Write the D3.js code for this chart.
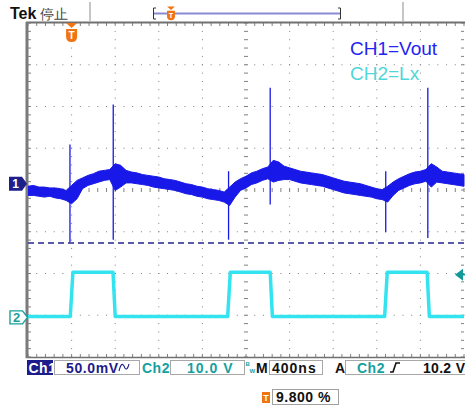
<!DOCTYPE html>
<html>
<head>
<meta charset="utf-8">
<script src="https://cdn.jsdelivr.net/npm/d3@7"></script>
<style>
body { margin: 0; background: #fff; }
svg { display: block; }
text { font-family: "Liberation Sans", Arial, sans-serif; }
</style>
</head>
<body>
<svg id="scope" width="465" height="408"></svg>
<script>
// sample times (ns), 400 ns/div, trigger one division from the left
var sampleNs = [-400, -350, -300, -250, -200, -150, -100, -50, 0, 50, 100, 150, 200, 250, 300, 350,
  400, 450, 500, 550, 600, 650, 700, 750, 800, 850, 900, 950, 1000, 1050, 1100, 1150, 1200, 1250,
  1300, 1350, 1400, 1450, 1500, 1550, 1600, 1650, 1700, 1750, 1800, 1850, 1900, 1950, 2000, 2050,
  2100, 2150, 2200, 2250, 2300, 2350, 2400, 2450, 2500, 2550, 2600, 2650, 2700, 2750, 2800, 2850,
  2900, 2950, 3000, 3050, 3100, 3150, 3200, 3250, 3300, 3350, 3400, 3450, 3500, 3550, 3600];

// CH1 (Vout) envelope, mV
var ch1HiMv = [-3, -2, -4, -4, -5, -5, -6, -8, -2, 4, 7, 10, 12, 15, 16, 17,
  24, 22, 16, 14, 13, 11, 10, 9, 8, 6, 5, 4, 2, 0, -1, -3, -4, -6,
  -7, -8, -10, -4, 2, 6, 9, 13, 15, 18, 20, 28, 26, 21, 19, 17,
  15, 14, 13, 12, 11, 9, 7, 5, 3, 2, 1, 0, -2, -4, -6, -7,
  -3, 2, 6, 9, 12, 14, 15, 17, 24, 20, 15, 14, 13, 12, 11];
var ch1LoMv = [-14, -14, -15, -16, -15, -17, -18, -20, -24, -18, -6, -2, 0, 2, 4, 5,
  -8, -4, 1, 1, 0, -1, -2, -4, -5, -6, -7, -8, -10, -12, -13, -15, -16, -18,
  -19, -20, -22, -26, -16, -8, -5, -1, 1, 4, 6, 2, 4, 5, 5, 3,
  1, 0, -1, -2, -3, -5, -7, -9, -11, -12, -13, -14, -15, -16, -18, -19,
  -22, -14, -8, -5, -2, 0, 1, 3, -4, 2, 1, 0, -1, -2, -3];

// switching spikes on CH1
var spikeNs = [-15, 382, 1440, 1822, 2882, 3268];
var spikeHiMv = [47, 95, 15, 115, 15, 115];
var spikeLoMv = [-70, -67, -67, -25, -58, -65];

// CH2 (Lx) corners, V
var ch2Ns = [-400, -12, 12, 380, 400, 1432, 1456, 1822, 1842, 2872, 2896, 3262, 3282, 3600];
var ch2V = [0.2, 0.2, 10.8, 10.8, 0.2, 0.2, 10.8, 10.8, 0.2, 0.2, 10.8, 10.8, 0.2, 0.2];

var ch1MvPerDiv = 50, ch1Pos = 0.15;
var ch2VPerDiv = 10, ch2Pos = -3.05;
var cursorMv = -71;
var trigLevelV = 10.2;

var svg = d3.select("#scope");
var gLeft = 28, gRight = 464, gTop = 23, gBottom = 357;

var gx = d3.scaleLinear().domain([0, 10]).range([gLeft, gRight]);
var gy = d3.scaleLinear().domain([-4, 4]).range([gBottom, gTop]);
var tx = d3.scaleLinear().domain([-400, 3600]).range([gLeft, gRight]);
var y1 = d3.scaleLinear()
  .domain([(-4 - ch1Pos) * ch1MvPerDiv, (4 - ch1Pos) * ch1MvPerDiv])
  .range([gBottom, gTop]);
var y2 = d3.scaleLinear()
  .domain([(-4 - ch2Pos) * ch2VPerDiv, (4 - ch2Pos) * ch2VPerDiv])
  .range([gBottom, gTop]);

var gridColor = "#808080";
var grid = svg.append("g");

// dotted division lines
var minor = d3.range(0, 50.5, 1).map(function(d) { return d / 5; });
var minorY = d3.range(-20, 20.5, 1).map(function(d) { return d / 5; });
[1, 2, 3, 4, 6, 7, 8, 9].forEach(function(i) {
  grid.selectAll(null).data(minorY).enter().append("rect")
    .attr("x", gx(i) - 0.5).attr("y", function(d) { return gy(d) - 0.5; })
    .attr("width", 1).attr("height", 1).attr("fill", gridColor);
});
[-3, -2, -1, 1, 2, 3].forEach(function(j) {
  grid.selectAll(null).data(minor).enter().append("rect")
    .attr("x", function(d) { return gx(d) - 0.5; }).attr("y", gy(j) - 0.5)
    .attr("width", 1).attr("height", 1).attr("fill", gridColor);
});

// center cross with ticks
grid.selectAll(null).data(minor).enter().append("line")
  .attr("x1", function(d) { return gx(d); }).attr("x2", function(d) { return gx(d); })
  .attr("y1", gy(0) - 2).attr("y2", gy(0) + 2)
  .attr("stroke", gridColor).attr("stroke-width", 1);
grid.selectAll(null).data(minorY).enter().append("line")
  .attr("y1", function(d) { return gy(d); }).attr("y2", function(d) { return gy(d); })
  .attr("x1", gx(5) - 2).attr("x2", gx(5) + 2)
  .attr("stroke", gridColor).attr("stroke-width", 1);

// border ticks
grid.selectAll(null).data(minor).enter().append("line")
  .attr("x1", function(d) { return gx(d); }).attr("x2", function(d) { return gx(d); })
  .attr("y1", gTop).attr("y2", gTop + 3).attr("stroke", gridColor);
grid.selectAll(null).data(minor).enter().append("line")
  .attr("x1", function(d) { return gx(d); }).attr("x2", function(d) { return gx(d); })
  .attr("y1", gBottom).attr("y2", gBottom - 3).attr("stroke", gridColor);
grid.selectAll(null).data(minorY).enter().append("line")
  .attr("y1", function(d) { return gy(d); }).attr("y2", function(d) { return gy(d); })
  .attr("x1", gLeft).attr("x2", gLeft + 3).attr("stroke", gridColor);
grid.selectAll(null).data(minorY).enter().append("line")
  .attr("y1", function(d) { return gy(d); }).attr("y2", function(d) { return gy(d); })
  .attr("x1", gRight).attr("x2", gRight - 3).attr("stroke", gridColor);

// border
grid.append("line").attr("x1", gLeft - 2).attr("x2", 465).attr("y1", gTop - 0.5).attr("y2", gTop - 0.5)
  .attr("stroke", "#707070").attr("stroke-width", 2);
grid.append("line").attr("x1", gLeft - 2).attr("x2", 465).attr("y1", gBottom + 0.5).attr("y2", gBottom + 0.5)
  .attr("stroke", "#707070").attr("stroke-width", 1.5);
grid.append("line").attr("x1", gLeft - 1).attr("x2", gLeft - 1).attr("y1", gTop - 1).attr("y2", gBottom + 1)
  .attr("stroke", "#7a7a7a").attr("stroke-width", 3);

// clip for traces
svg.append("clipPath").attr("id", "clip").append("rect")
  .attr("x", gLeft).attr("y", gTop).attr("width", gRight - gLeft + 2).attr("height", gBottom - gTop);
var traces = svg.append("g").attr("clip-path", "url(#clip)");

// cursor line
traces.append("line")
  .attr("x1", gLeft).attr("x2", 465).attr("y1", y1(cursorMv)).attr("y2", y1(cursorMv))
  .attr("stroke", "#26268a").attr("stroke-width", 1.6).attr("stroke-dasharray", "6,4");

// CH2 trace
var ch2Line = d3.line()
  .x(function(d, i) { return tx(ch2Ns[i]); })
  .y(function(d) { return y2(d); });
traces.append("path").datum(ch2V)
  .attr("d", ch2Line)
  .attr("fill", "none").attr("stroke", "#33e3f0").attr("stroke-width", 3.5)
  .attr("stroke-linejoin", "round");

// CH1 trace envelope
var ch1Area = d3.area()
  .x(function(d, i) { return tx(sampleNs[i]); })
  .y0(function(d, i) { return y1(ch1LoMv[i]); })
  .y1(function(d) { return y1(d); });
traces.append("path").datum(ch1HiMv)
  .attr("d", ch1Area)
  .attr("fill", "#1818e8").attr("stroke", "#1818e8").attr("stroke-width", 1);

traces.selectAll(".spike").data(spikeNs).enter().append("line")
  .attr("class", "spike")
  .attr("x1", function(d) { return tx(d); }).attr("x2", function(d) { return tx(d); })
  .attr("y1", function(d, i) { return y1(spikeHiMv[i]); })
  .attr("y2", function(d, i) { return y1(spikeLoMv[i]); })
  .attr("stroke", "#1818e8").attr("stroke-width", 1.3);

// channel markers
var m1 = y1(0);
svg.append("path")
  .attr("d", "M9," + (m1 - 7) + "H22L27," + m1 + "L22," + (m1 + 7) + "H9Z")
  .attr("fill", "#1f1f8c");
svg.append("text").attr("x", 15.5).attr("y", m1 + 4.5).attr("text-anchor", "middle")
  .attr("fill", "#fff").attr("font-size", 12).attr("font-weight", "bold").text("1");
var m2 = y2(0);
svg.append("path")
  .attr("d", "M10," + (m2 - 6.5) + "H22.5L27.5," + m2 + "L22.5," + (m2 + 6.5) + "H10Z")
  .attr("fill", "#fff").attr("stroke", "#1aa0a0").attr("stroke-width", 1.4);
svg.append("text").attr("x", 16.5).attr("y", m2 + 5).attr("text-anchor", "middle")
  .attr("fill", "#1aa0a0").attr("font-size", 13).attr("font-weight", "bold").text("2");

// trigger level arrow
var tl = y2(trigLevelV);
svg.append("path").attr("d", "M455," + tl + "L463," + (tl - 6) + "V" + (tl + 6) + "Z").attr("fill", "#129a9a");
svg.append("line").attr("x1", 462).attr("x2", 465).attr("y1", tl).attr("y2", tl)
  .attr("stroke", "#129a9a").attr("stroke-width", 1.5);

// trigger position marker
function tMark(cx, ty, s) {
  var g = svg.append("g").attr("transform", "translate(" + cx + "," + ty + ") scale(" + s + ")");
  g.append("path").attr("d", "M-5.5,0H5.5L0,5Z").attr("fill", "#f07412");
  g.append("path").attr("d", "M-5.5,6H5.5V13.5Q5.5,19 0,19Q-5.5,19 -5.5,13.5Z").attr("fill", "#f07412");
  g.append("text").attr("x", 0).attr("y", 16).attr("text-anchor", "middle")
    .attr("fill", "#fff").attr("font-size", 10).attr("font-weight", "bold").text("T");
}
tMark(tx(0), gTop, 1);

// labels
svg.append("text").attr("x", 350).attr("y", 55).attr("font-size", 19)
  .attr("fill", "#2424f2").text("CH1=Vout");
svg.append("text").attr("x", 350).attr("y", 80).attr("font-size", 19)
  .attr("fill", "#4fd6d8").text("CH2=Lx");

// header
svg.append("text").attr("x", 10).attr("y", 19).attr("font-size", 16).attr("font-weight", "bold")
  .attr("fill", "#111").text("Tek");
svg.append("text").attr("x", 40).attr("y", 19).attr("font-size", 14)
  .attr("font-family", "'Noto Sans CJK JP', 'Noto Sans CJK SC', sans-serif")
  .attr("fill", "#444").text("停止");
[90, 403].forEach(function(x) {
  svg.append("line").attr("x1", x).attr("x2", x).attr("y1", 2).attr("y2", 21)
    .attr("stroke", "#a0a0a0").attr("stroke-width", 1.2);
});
svg.append("rect").attr("x", 153).attr("y", 12.5).attr("width", 188).attr("height", 2).attr("fill", "#8a8ad4");
svg.append("path").attr("d", "M156,8H153.5V19H156").attr("fill", "none").attr("stroke", "#333");
svg.append("path").attr("d", "M338,8H340.5V19H338").attr("fill", "none").attr("stroke", "#333");
tMark(171, 6.5, 0.72);

// status bar
var sb = svg.append("g").attr("font-size", 14).attr("font-weight", "bold").attr("letter-spacing", 1);
function box(x, w) {
  sb.append("rect").attr("x", x + 0.5).attr("y", 360.5).attr("width", w).attr("height", 14)
    .attr("fill", "#fff").attr("stroke", "#a8a8a8");
}
sb.append("rect").attr("x", 27).attr("y", 360).attr("width", 26).attr("height", 15).attr("fill", "#1c1c8c");
sb.append("text").attr("x", 28.5).attr("y", 373).attr("fill", "#fff").attr("letter-spacing", 0.5).text("Ch1");
box(54, 85);
sb.append("text").attr("x", 66).attr("y", 373).attr("fill", "#1c1c8c").attr("letter-spacing", 0.6).text("50.0mV");
sb.append("path").attr("d", "M119,371Q121.5,361 124,366Q126.5,373 129,364")
  .attr("fill", "none").attr("stroke", "#1c1c8c").attr("stroke-width", 1.1);
sb.append("text").attr("x", 142).attr("y", 373).attr("fill", "#15a0a0").attr("letter-spacing", 0.5).text("Ch2");
box(170, 74);
sb.append("text").attr("x", 187).attr("y", 373).attr("fill", "#15a0a0").text("10.0 V");
sb.append("text").attr("x", 245.5).attr("y", 366).attr("font-size", 6).attr("letter-spacing", 0)
  .attr("fill", "#15a0a0").text("B");
sb.append("text").attr("x", 249.5).attr("y", 373).attr("font-size", 6).attr("letter-spacing", 0)
  .attr("fill", "#15a0a0").text("W");
sb.append("text").attr("x", 256).attr("y", 373).attr("fill", "#111").text("M");
box(269, 53);
sb.append("text").attr("x", 272).attr("y", 373).attr("fill", "#111").text("400ns");
sb.append("text").attr("x", 335).attr("y", 373).attr("fill", "#111").text("A");
box(345, 125);
sb.append("text").attr("x", 357).attr("y", 373).attr("fill", "#15a0a0").attr("letter-spacing", 0.5).text("Ch2");
sb.append("path").attr("d", "M390,372H393L396,363H400").attr("fill", "none").attr("stroke", "#111").attr("stroke-width", 1.6);
sb.append("text").attr("x", 423).attr("y", 373).attr("fill", "#111").attr("letter-spacing", 0.3).text("10.2 V");

sb.append("rect").attr("x", 262).attr("y", 392).attr("width", 8).attr("height", 11).attr("fill", "#f07412");
sb.append("text").attr("x", 266).attr("y", 401).attr("text-anchor", "middle").attr("font-size", 9)
  .attr("letter-spacing", 0).attr("fill", "#fff").text("T");
sb.append("rect").attr("x", 272.5).attr("y", 389.5).attr("width", 66).attr("height", 15)
  .attr("fill", "#fff").attr("stroke", "#a0a0a0");
sb.append("text").attr("x", 276).attr("y", 402).attr("fill", "#111").attr("letter-spacing", 0.5).text("9.800 %");
</script>
</body>
</html>
